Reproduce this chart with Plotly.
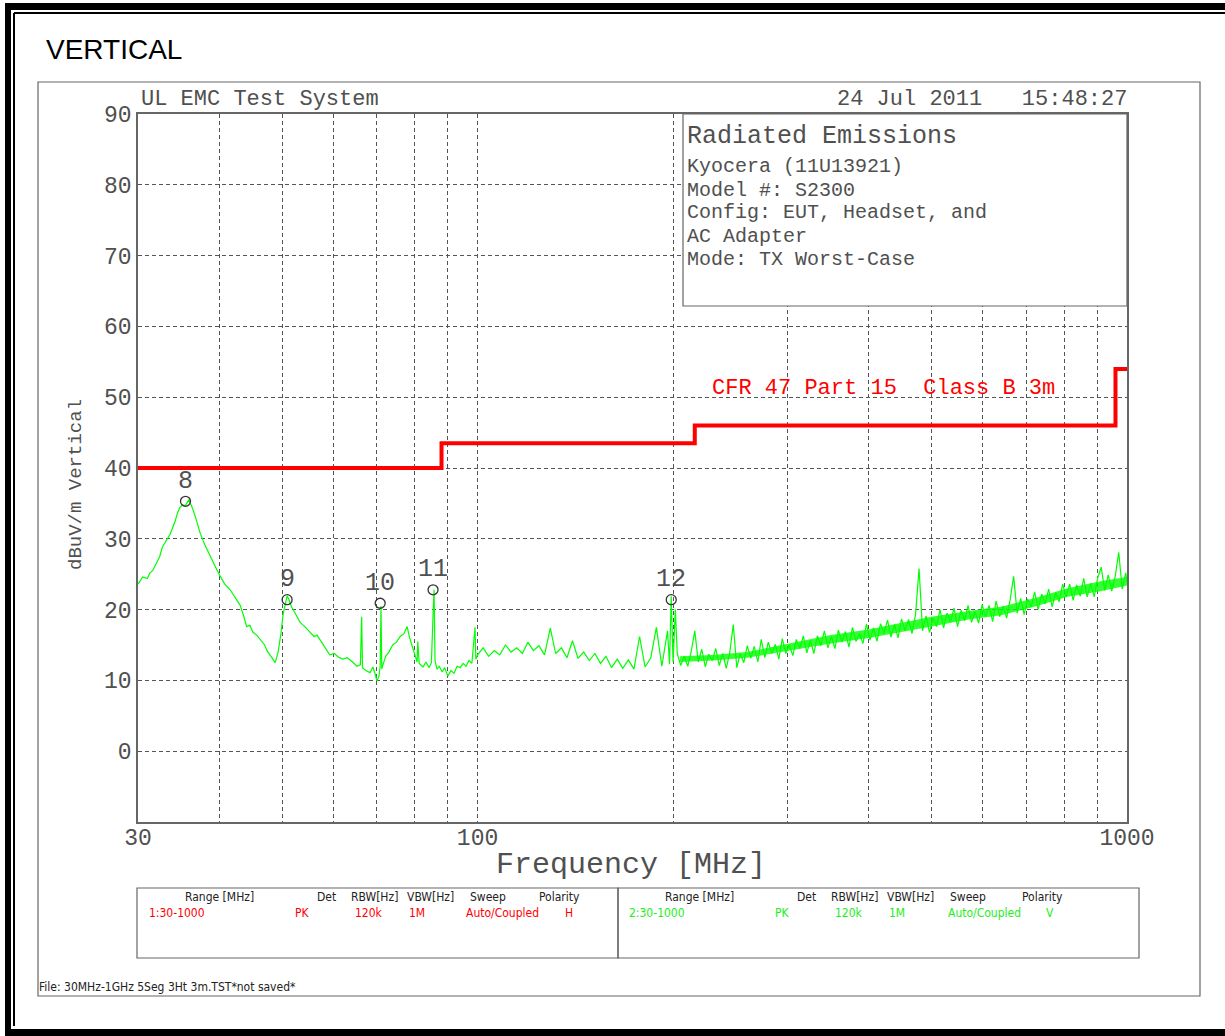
import numpy as np
import plotly.graph_objects as go

# ---------------- data ----------------
# measured emission trace, 30-100 MHz (MHz / dBuV/m)
trace_freq_a = [30.0, 30.5, 31.0, 31.3, 31.6, 32.0, 32.4, 32.7, 33.1, 33.6, 34.0, 34.2, 34.5, 34.8,
                35.1, 35.5, 35.9, 36.3, 36.8, 37.4, 38.0, 38.7, 39.4, 40.1, 40.8, 41.6, 42.3, 43.1,
                43.6, 44.1, 44.6, 45.1, 45.7, 46.4, 47.0, 47.4, 47.9, 48.4, 48.8, 49.3, 49.8, 50.2,
                50.6, 50.9, 51.2, 51.7, 52.3, 53.3, 54.2, 55.0, 56.0, 56.6, 57.5, 58.4, 59.2, 60.2,
                61.0, 62.0, 63.0, 64.2, 65.2, 66.0, 66.3, 66.5, 67.3, 68.3, 69.0, 69.6, 70.0, 70.5,
                70.8, 71.0, 71.2, 71.5, 72.2, 73.0, 74.0, 75.0, 76.0, 77.0, 77.9, 78.6, 79.4, 80.3,
                80.7, 80.9, 81.3, 82.4, 83.3, 84.2, 84.9, 85.3, 85.7, 86.0, 86.6, 87.3, 88.2, 89.0,
                90.0, 91.0, 92.0, 93.0, 94.0, 95.0, 96.0, 97.0, 98.0, 99.1, 99.4, 100.0]
trace_level_a = [23.6, 24.6, 24.4, 25.2, 25.5, 26.6, 27.5, 28.8, 29.6, 30.6, 31.8, 32.4, 33.6, 34.4,
                 34.8, 34.7, 35.5, 34.6, 33.0, 30.8, 29.2, 27.6, 26.2, 24.8, 23.6, 22.8, 21.8, 20.6,
                 19.2, 17.6, 17.8, 16.8, 16.4, 15.6, 15.0, 14.2, 13.6, 12.9, 12.5, 14.0, 16.6, 19.4,
                 21.0, 21.9, 21.5, 20.4, 19.6, 18.2, 17.6, 17.0, 16.2, 16.4, 15.4, 14.4, 13.6, 13.8,
                 13.3, 13.0, 13.2, 12.6, 12.0, 12.2, 19.0, 11.8, 11.4, 11.1, 11.9, 10.8, 9.9, 10.6,
                 12.0, 20.5, 11.6, 12.2, 13.4, 14.0, 15.0, 15.4, 16.2, 16.6, 17.6, 16.0, 14.6, 13.0,
                 12.6, 15.5, 12.4, 11.9, 12.6, 11.8, 12.5, 18.0, 22.8, 12.8, 11.6, 12.0, 11.2, 11.8,
                 10.6, 11.4, 11.0, 12.0, 11.8, 12.4, 12.0, 12.8, 12.4, 17.5, 13.0, 13.6]

# measured emission trace, 100-202 MHz
trace_freq_b = [102, 104, 106.1, 108.2, 110.4, 112.6, 114.9, 117.2, 119.5, 121.9, 124.3, 126.8,
                129.4, 131.9, 134.6, 137.3, 140.0, 142.8, 145.7, 148.6, 151.6, 154.6, 157.7, 160.8,
                164.1, 167.3, 170.7, 174.1, 177.6, 181.1, 184.8, 188.5, 192.2, 196.1, 197.5, 198.7,
                200.0, 201.6]
trace_level_b = [14.6, 13.4, 14.2, 13.6, 15.0, 14.0, 14.6, 13.8, 15.4, 14.2, 14.9, 13.6,
                 17.4, 13.8, 14.6, 13.2, 15.6, 13.1, 14.0, 12.8, 13.8, 12.4, 13.4, 11.8,
                 13.0, 11.7, 12.9, 11.6, 16.2, 11.9, 13.2, 17.5, 12.0, 17.0, 12.3, 21.9,
                 12.6, 20.0]

# measured emission trace, 203-1000 MHz (dense noise part)
trace_freq_c = [203.0, 205.5, 208.1, 210.7, 213.3, 216.0, 218.7, 221.4, 224.2, 227.0,
                229.8, 232.7, 235.6, 238.5, 241.5, 244.5, 247.6, 250.7, 253.8, 257.0,
                260.2, 263.4, 266.7, 270.1, 273.4, 276.9, 280.3, 283.8, 287.4, 291.0,
                294.6, 298.3, 302.0, 305.8, 309.6, 313.5, 317.4, 321.4, 325.4, 329.5,
                333.6, 337.8, 342.0, 346.3, 350.6, 355.0, 359.4, 363.9, 368.5, 373.1,
                377.8, 382.5, 387.3, 392.1, 397.0, 402.0, 407.0, 412.1, 417.3, 422.5,
                427.8, 433.1, 438.5, 444.0, 449.6, 455.2, 460.9, 466.6, 472.5, 478.4,
                484.4, 490.4, 496.5, 502.7, 509.0, 515.4, 521.8, 528.4, 535.0, 541.6,
                548.4, 555.3, 562.2, 569.2, 576.3, 583.5, 590.8, 598.2, 605.7, 613.3,
                621.0, 628.7, 636.6, 644.5, 652.6, 660.8, 669.0, 677.4, 685.9, 694.4,
                703.1, 711.9, 720.8, 729.8, 738.9, 748.1, 757.5, 766.9, 776.5, 786.2,
                796.1, 806.0, 816.1, 826.3, 836.6, 847.1, 857.7, 868.4, 879.2, 890.2,
                901.4, 912.6, 924.0, 935.6, 947.3, 959.1, 971.1, 983.2, 995.5, 1000]
trace_level_c = [13.8, 12.1, 13.4, 12.0, 14.1, 17.0, 12.6, 14.4, 11.9, 13.7,
                 12.8, 14.5, 12.1, 13.8, 11.7, 13.9, 17.9, 11.8, 13.8, 12.5,
                 14.9, 13.1, 14.8, 12.6, 15.8, 13.2, 15.4, 13.8, 15.1, 13.0,
                 15.9, 13.8, 15.0, 13.5, 15.8, 14.5, 16.3, 13.9, 15.7, 13.8,
                 16.3, 14.9, 17.0, 14.6, 16.2, 14.5, 17.1, 15.4, 16.9, 14.7,
                 17.5, 15.5, 16.6, 15.2, 18.0, 15.7, 17.4, 15.5, 18.0, 16.6,
                 18.5, 16.1, 17.9, 16.0, 18.7, 17.0, 18.6, 16.6, 19.3, 25.8,
                 17.0, 19.1, 16.8, 18.8, 17.6, 20.0, 17.4, 19.5, 18.3, 20.2,
                 17.6, 19.9, 18.4, 20.6, 18.2, 19.7, 18.1, 20.7, 19.0, 20.6,
                 18.3, 21.2, 19.0, 20.5, 18.8, 21.4, 24.7, 19.5, 21.6, 19.3,
                 21.5, 20.4, 22.5, 20.0, 22.2, 20.8, 22.9, 20.4, 22.4, 21.1,
                 23.6, 21.8, 23.6, 21.3, 23.5, 21.9, 24.4, 21.8, 23.7, 21.8,
                 24.5, 26.0, 22.7, 24.9, 22.6, 24.7, 28.1, 22.9, 25.2, 23.8]

# solid core of the noise band above 200 MHz
band_freq = [205, 230, 260, 300, 350, 400, 450, 500, 570, 640, 720, 810, 910, 1000]
band_lo = [12.6, 12.8, 13.2, 14.2, 15.2, 16.0, 16.8, 17.6, 18.6, 19.2, 20.4, 21.8, 22.6, 23.4]
band_hi = [13.4, 13.6, 14.0, 15.2, 16.4, 17.2, 18.2, 19.0, 19.8, 20.4, 21.6, 23.0, 24.0, 24.6]

# CFR 47 Part 15 Class B 3m limit
limit_freq = [30, 88, 216, 960, 1000]
limit_level = [40.0, 43.5, 46.0, 54.0, 54.0]

# numbered peak markers
marker_labels = ['8', '9', '10', '11', '12']
marker_freq = [35.5, 50.9, 70.8, 85.4, 198.7]
marker_level = [35.3, 21.4, 20.9, 22.8, 21.4]

# axes
y_ticks = [0, 10, 20, 30, 40, 50, 60, 70, 80, 90]
x_ticks = [30, 100, 1000]
x_grid = [40, 50, 60, 70, 80, 90, 100, 200, 300, 400, 500, 600, 700, 800, 900]

# texts
info_lines = ['Kyocera (11U13921)', 'Model #: S2300', 'Config: EUT, Headset, and',
              'AC Adapter', 'Mode: TX Worst-Case']
table_headers = ['Range [MHz]', 'Det', 'RBW[Hz]', 'VBW[Hz]', 'Sweep', 'Polarity']
table_row1 = ['1:30-1000', 'PK', '120k', '1M', 'Auto/Coupled', 'H']
table_row2 = ['2:30-1000', 'PK', '120k', '1M', 'Auto/Coupled', 'V']

# ---------------- layout helpers (pixel geometry) ----------------
W, H = 1225, 1036
PL, PR, PT, PB = 138, 1127, 114, 822
MONO = 'Liberation Mono, DejaVu Sans Mono, monospace'
NARROW = 'DejaVu Sans Condensed, Liberation Sans Narrow, DejaVu Sans, sans-serif'
TXT = '#505050'


def px(x):
    return (x - PL) / (PR - PL)


def py(y):
    return (PB - y) / (PB - PT)


def ann(text, x, y, size, color=TXT, family=MONO, xanchor='left', angle=0):
    return dict(text=text, x=px(x), y=py(y), xref='paper', yref='paper', xanchor=xanchor,
                yanchor='middle', showarrow=False, textangle=angle,
                font=dict(family=family, size=size, color=color))


def rect(x0, y0, x1, y1, color='#666', width=1.2, fill=None, layer='above'):
    d = dict(type='rect', xref='paper', yref='paper', x0=px(x0), x1=px(x1), y0=py(y0), y1=py(y1),
             line=dict(color=color, width=width), layer=layer)
    if fill:
        d['fillcolor'] = fill
    return d


def line(x0, y0, x1, y1, color='#000', width=1):
    return dict(type='line', xref='paper', yref='paper', x0=px(x0), x1=px(x1), y0=py(y0), y1=py(y1),
                line=dict(color=color, width=width), layer='above')


fig = go.Figure()

fig.add_trace(go.Scatter(x=band_freq, y=band_lo, mode='lines', line=dict(width=0, color='#00ff00'),
                         hoverinfo='skip', showlegend=False))
fig.add_trace(go.Scatter(x=band_freq, y=band_hi, mode='lines', line=dict(width=0, color='#00ff00'),
                         fill='tonexty', fillcolor='rgba(0,255,0,0.8)', hoverinfo='skip', showlegend=False))
fig.add_trace(go.Scatter(x=trace_freq_a + trace_freq_b + trace_freq_c,
                         y=trace_level_a + trace_level_b + trace_level_c, mode='lines',
                         line=dict(color='#00ff00', width=1.2), showlegend=False))
fig.add_trace(go.Scatter(x=limit_freq, y=limit_level, mode='lines', line_shape='hv',
                         line=dict(color='#ff0000', width=4), showlegend=False))
fig.add_trace(go.Scatter(x=marker_freq, y=marker_level, mode='markers',
                         marker=dict(symbol='circle-open', size=10, color='#333', line=dict(width=1.3)),
                         showlegend=False))

grid_color = '#555'
fig.update_xaxes(type='log', range=[np.log10(30), np.log10(1000)], tickvals=x_ticks,
                 ticktext=[str(v) for v in x_ticks], showgrid=False, ticks='', ticklabelstandoff=-6,
                 minor=dict(tickvals=x_grid, showgrid=True, gridcolor=grid_color, griddash='4px,3px',
                            gridwidth=1, ticks=''),
                 showline=True, mirror=True, linecolor='#666', linewidth=1.5, zeroline=False,
                 tickfont=dict(family=MONO, size=23, color=TXT))
fig.update_yaxes(range=[-10, 90], tickvals=y_ticks, showgrid=True, gridcolor=grid_color,
                 griddash='4px,3px', gridwidth=1, ticks='', showline=True, mirror=True,
                 linecolor='#666', linewidth=1.5, zeroline=False,
                 tickfont=dict(family=MONO, size=23, color=TXT))

annotations = []
annotations.append(ann('VERTICAL', 44, 49, 28, color='#000', family='Liberation Sans, Arial, sans-serif'))
annotations.append(ann('UL EMC Test System', 139, 100, 22))
annotations.append(ann('24 Jul 2011\u00a0\u00a0 15:48:27', 1129, 100, 22, xanchor='right'))
annotations.append(ann('Radiated Emissions', 685, 136, 25))
for i, t in enumerate(info_lines):
    annotations.append(ann(t, 685, 167 + 23 * i, 20))
annotations.append(ann('CFR 47 Part 15\u00a0 Class B 3m', 710, 388, 22, color='#ff0000'))
annotations.append(ann('Frequency [MHz]', 631, 865, 30, xanchor='center'))
annotations.append(ann('dBuV/m Vertical', 76, 485, 19, xanchor='center', angle=-90))
for lab, f, v in zip(marker_labels, marker_freq, marker_level):
    annotations.append(dict(text=lab, x=np.log10(f), y=v, xref='x', yref='y', xanchor='center',
                            yanchor='middle', yshift=20, showarrow=False,
                            font=dict(family=MONO, size=25, color=TXT)))

hdr_x1 = [183, 315, 349, 405, 468, 537]
row_x1 = [147, 293, 353, 407, 464, 563]
hdr_x2 = [663, 795, 829, 885, 948, 1020]
row_x2 = [627, 773, 833, 887, 946, 1044]
for t, x in zip(table_headers, hdr_x1):
    annotations.append(ann(t, x, 897, 12, color='#222', family=NARROW))
for t, x in zip(table_headers, hdr_x2):
    annotations.append(ann(t, x, 897, 12, color='#222', family=NARROW))
for t, x in zip(table_row1, row_x1):
    annotations.append(ann(t, x, 913, 12, color='#ff0000', family=NARROW))
for t, x in zip(table_row2, row_x2):
    annotations.append(ann(t, x, 913, 12, color='#22ee22', family=NARROW))
annotations.append(ann('File: 30MHz-1GHz 5Seg 3Ht 3m.TST*not saved*', 37, 987, 12, color='#222',
                       family=NARROW))

shapes = [
    # info box
    rect(683, 114, 1127, 306, color='#666', width=1.2, fill='white'),
    # chart frame
    rect(38, 82, 1200, 996, color='#666', width=1.2),
    # table boxes
    rect(137, 888, 618, 958, color='#666', width=1.2),
    rect(618, 888, 1139, 958, color='#666', width=1.2),
    # outer black borders
    rect(5, 3, 11, 1036, color='#000', width=0, fill='#000'),
    rect(5, 3, 1225, 10, color='#000', width=0, fill='#000'),
    rect(5, 1029, 1225, 1036, color='#000', width=0, fill='#000'),
    line(14, 13, 14, 1026, width=2),
    line(14, 13, 1225, 13, width=2),
]

fig.update_layout(width=W, height=H, margin=dict(l=PL, r=W - PR, t=PT, b=H - PB),
                  paper_bgcolor='white', plot_bgcolor='white', showlegend=False,
                  annotations=annotations, shapes=shapes, hovermode=False)

fig.write_html('out.html', config={'displayModeBar': False},
               post_script="document.body.style.margin='0';document.body.style.overflow='hidden';")
